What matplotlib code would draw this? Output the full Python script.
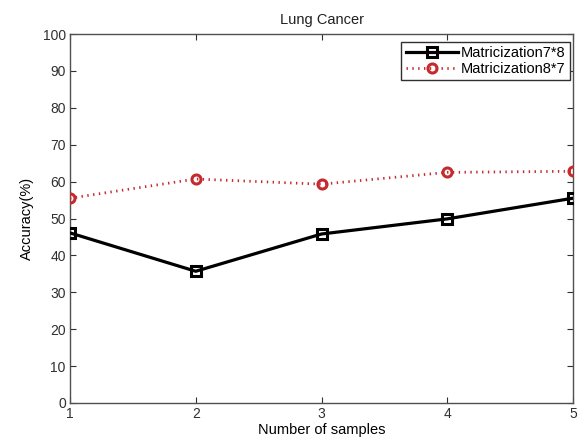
import matplotlib
matplotlib.use("Agg")
import matplotlib.pyplot as plt

samples = [1, 2, 3, 4, 5]
acc_78 = [46.1, 35.7, 45.8, 49.9, 55.5]
acc_87 = [55.5, 60.7, 59.3, 62.5, 62.8]
labels = ["Matricization7*8", "Matricization8*7"]
yticks = list(range(0, 101, 10))

plt.rcParams['font.family'] = ['Liberation Sans', 'DejaVu Sans']
fig = plt.figure(figsize=(5.79, 4.42), dpi=100)
ax = fig.add_axes([70 / 579, 1 - 403 / 442, 503 / 579, 369 / 442])

ax.plot(samples, acc_78, color='black', lw=2.3, marker='s', ms=7,
        mfc='none', mec='black', mew=2.2, label=labels[0], zorder=3)
ax.plot(samples, acc_87, color='#c42a2e', lw=2.0, ls=(0, (0.5, 1.6)), marker='o', ms=6.5,
        mfc='none', mec='#c42a2e', mew=2.2, label=labels[1], zorder=3,
        solid_capstyle='butt', dash_capstyle='butt')

ax.set_xlim(1, 5)
ax.set_ylim(0, 100)
ax.set_xticks(samples)
ax.set_yticks(yticks)
ax.tick_params(direction='in', top=True, right=True, labelsize=10, length=4,
               colors='#303030', pad=3)
for s in ax.spines.values():
    s.set_color('#505050')
    s.set_linewidth(1)
ax.set_title("Lung Cancer", fontsize=10.5, color='#202020', pad=7)
ax.set_xlabel("Number of samples", fontsize=10.5, labelpad=1)
ax.set_ylabel("Accuracy(%)", fontsize=10.5, labelpad=6)
leg = ax.legend(loc='upper right', bbox_to_anchor=((570 - 70) / 503, (403 - 42) / 369),
                borderaxespad=0, fontsize=10.5, fancybox=False, edgecolor='#303030',
                framealpha=1, handlelength=3.6, handletextpad=0.2,
                borderpad=0.3, labelspacing=0.1)
leg.get_frame().set_linewidth(1)
fig.savefig("out.png", dpi=100)
